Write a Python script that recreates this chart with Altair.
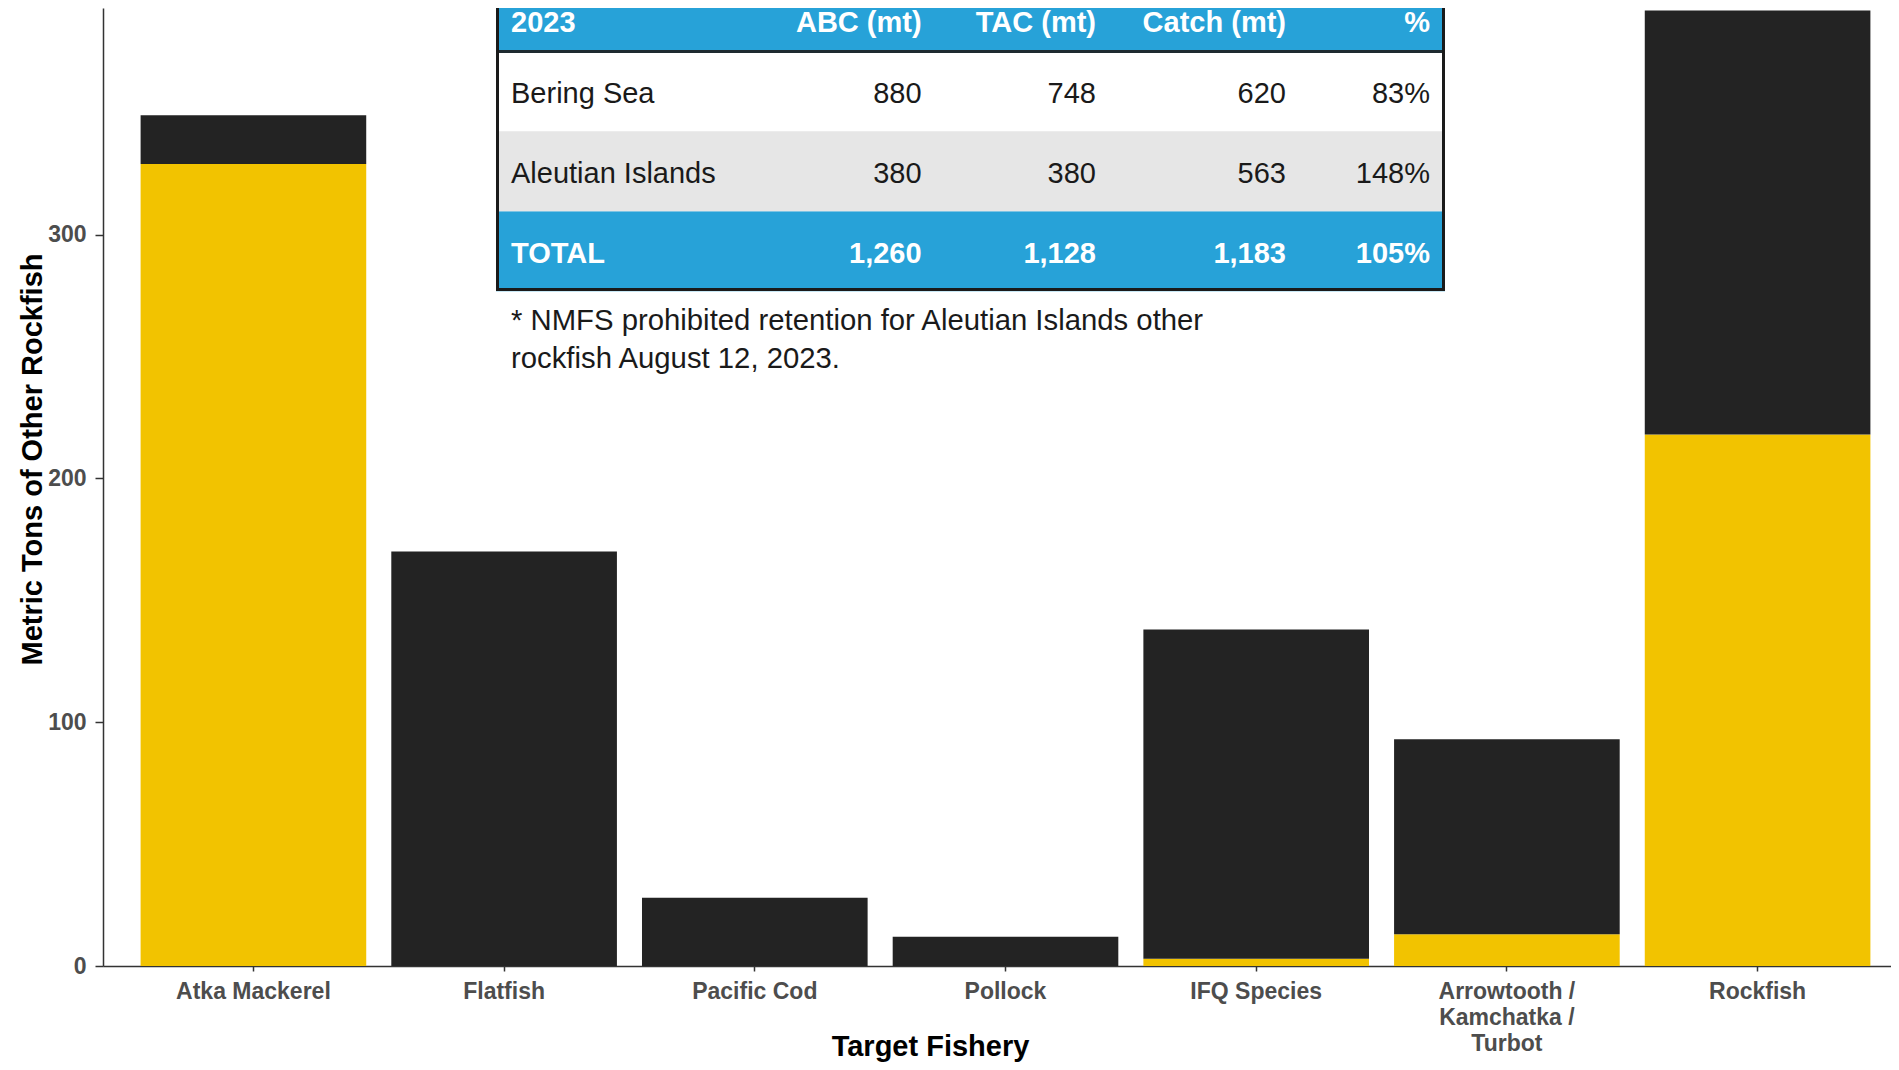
import altair as alt
import pandas as pd

# ---------------- data ----------------
fisheries = ["Atka Mackerel", "Flatfish", "Pacific Cod", "Pollock", "IFQ Species",
             "Arrowtooth /\nKamchatka /\nTurbot", "Rockfish"]
ai_catch = [329, 0, 0, 0, 3, 13, 218]      # Aleutian Islands (yellow)
bs_catch = [20, 170, 28, 12, 135, 80, 174]  # Bering Sea (black)
regions = ["Aleutian Islands", "Bering Sea"]
region_colors = ["#F2C300", "#232323"]
y_ticks = [0, 100, 200, 300]

table_header = ["2023", "ABC (mt)", "TAC (mt)", "Catch (mt)", "%"]
table_areas = ["Bering Sea", "Aleutian Islands", "TOTAL"]
abc_mt = ["880", "380", "1,260"]
tac_mt = ["748", "380", "1,128"]
catch_mt = ["620", "563", "1,183"]
pct_used = ["83%", "148%", "105%"]
footnote = ["* NMFS prohibited retention for Aleutian Islands other",
            "rockfish August 12, 2023."]

FONT = "Liberation Sans, Arial, sans-serif"

# ---------------- bars ----------------
rows = []
for i, f in enumerate(fisheries):
    rows.append({"fishery": f, "region": regions[0], "tons": ai_catch[i], "ord": 0})
    rows.append({"fishery": f, "region": regions[1], "tons": bs_catch[i], "ord": 1})
bar_df = pd.DataFrame(rows)

bars = alt.Chart(bar_df).mark_bar().encode(
    x=alt.X("fishery:N", sort=fisheries,
            scale=alt.Scale(paddingInner=0.1, paddingOuter=0.15, range=[0, 1805]),
            axis=alt.Axis(title="Target Fishery", labelAngle=0,
                          labelExpr="split(datum.label, '\\n')",
                          labelFont=FONT, labelFontSize=23, labelFontWeight="bold",
                          labelColor="#4d4d4d", labelBaseline="top", labelLineHeight=26,
                          labelPadding=9, tickSize=5, tickColor="#333333", tickWidth=1.5,
                          domainColor="#333333", domainWidth=1.5,
                          titleFont=FONT, titleFontSize=29, titleFontWeight="bold",
                          titleColor="#000000", titleX=827, titleY=89,
                          titleAlign="center", titleBaseline="alphabetic")),
    y=alt.Y("tons:Q", stack="zero",
            scale=alt.Scale(domain=[0, 393], nice=False),
            axis=alt.Axis(title="Metric Tons of Other Rockfish", values=y_ticks, grid=False,
                          labelFont=FONT, labelFontSize=23, labelFontWeight="bold",
                          labelColor="#4d4d4d", labelPadding=9, tickSize=8,
                          tickColor="#333333", tickWidth=1.5,
                          domainColor="#333333", domainWidth=1.5,
                          titleFont=FONT, titleFontSize=29, titleFontWeight="bold",
                          titleColor="#000000", titleX=-71, titleY=451,
                          titleAlign="center", titleBaseline="middle")),
    color=alt.Color("region:N", scale=alt.Scale(domain=regions, range=region_colors), legend=None),
    order=alt.Order("ord:Q", sort="ascending"),
)

# ---------------- table ----------------
table_rows = [table_header] + [
    [table_areas[k], abc_mt[k], tac_mt[k], catch_mt[k], pct_used[k]] for k in range(3)
]
row_kind = ["header", "body", "body", "total"]
cells = []
for r, row in enumerate(table_rows):
    for c, txt in enumerate(row):
        cells.append({"r": r, "c": c, "label": txt, "kind": row_kind[r]})
cell_df = pd.DataFrame(cells)
band_df = pd.DataFrame({"r": [0, 1, 2, 3], "kind": ["blue", "white", "gray", "blue"]})

col_x = [408, 818.6, 993, 1183, 1327]
tx_scale = alt.Scale(domain=[0, 1, 2, 3, 4], range=col_x, nice=False, zero=False)
ty_scale = alt.Scale(domain=[0, 3], range=[14.5, 254.5], nice=False, zero=False)

def band(kind, color):
    return alt.Chart(band_df).transform_filter(alt.datum.kind == kind).transform_calculate(
        top="datum.r - 0.64", bot="datum.r + 0.36"
    ).mark_rect(color=color).encode(
        x=alt.value(393), x2=alt.value(1342),
        y=alt.Y("top:Q", scale=ty_scale, axis=None), y2="bot:Q",
    )

def cell_text(left, kind):
    cond = (alt.datum.c == 0) if left else (alt.datum.c > 0)
    head = kind != "body"
    return alt.Chart(cell_df).transform_filter(cond).transform_filter(
        alt.datum.kind == kind
    ).mark_text(
        align="left" if left else "right", baseline="alphabetic", font=FONT, fontSize=29,
        fontWeight="bold" if head else "normal", color="#ffffff" if head else "#1a1a1a",
        dy=9 if kind == "header" else 0,
    ).encode(
        x=alt.X("c:Q", scale=tx_scale, axis=None),
        y=alt.Y("r:Q", scale=ty_scale, axis=None),
        text="label:N",
    )

table = alt.layer(
    band("blue", "#27A2D8"), band("white", "#ffffff"), band("gray", "#E6E6E6"),
    *[cell_text(left, kind) for left in (True, False) for kind in ("header", "body", "total")]
)

one = pd.DataFrame({"k": [0]})
head_line = alt.Chart(one).mark_rule(color="#1e2a30", strokeWidth=3).encode(
    x=alt.value(393), x2=alt.value(1342), y=alt.value(43.5))
border = alt.Chart(one).mark_rect(fill="#ffffff", fillOpacity=0, stroke="#1a1a1a",
                                  strokeWidth=3).encode(
    x=alt.value(394.5), x2=alt.value(1340.5), y=alt.value(-40), y2=alt.value(281.5))
note = alt.Chart(one).mark_text(
    text=footnote, align="left", baseline="alphabetic", font=FONT, fontSize=29.3,
    lineHeight=38, color="#1a1a1a").encode(x=alt.value(408), y=alt.value(322))

chart = alt.layer(bars, table, head_line, border, note).resolve_scale(
    x="independent", y="independent"
).properties(
    width=1788, height=958,
    padding={"left": 95, "top": 0, "right": 0, "bottom": 96},
    autosize=alt.AutoSizeParams(type="none"),
).configure_view(strokeWidth=0)

chart.save("out.html", embed_options={"renderer": "svg", "actions": False})
